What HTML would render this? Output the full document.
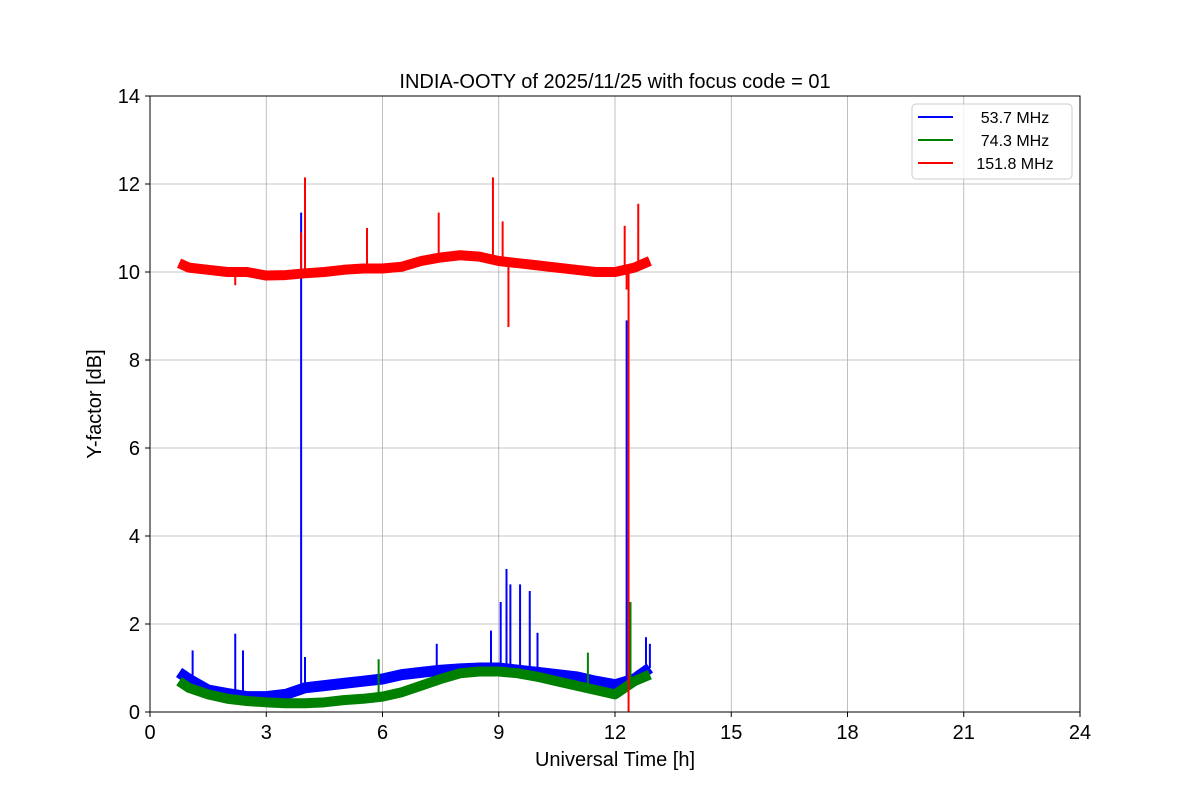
<!DOCTYPE html>
<html><head><meta charset="utf-8"><style>
body{margin:0;background:#fff;}
svg{display:block;font-family:"Liberation Sans","DejaVu Sans",sans-serif;}
</style></head><body>
<svg id="chart" width="1200" height="800">
<rect width="1200" height="800" fill="#fff"/>
<text x="615" y="88" font-size="20" text-anchor="middle">INDIA-OOTY of 2025/11/25 with focus code = 01</text>
<g id="grid"></g>
<g id="plot"></g>
<rect x="150" y="96" width="930" height="616" fill="none" stroke="#000" stroke-width="1"/>
<g id="ticks"></g>
<text x="615" y="766" font-size="20" text-anchor="middle">Universal Time [h]</text>
<text transform="translate(101,404) rotate(-90)" font-size="20" text-anchor="middle">Y-factor [dB]</text>
<g>
<rect x="912" y="104" width="160" height="75" rx="4" fill="#fff" fill-opacity="0.8" stroke="#ccc"/>
<g><line x1="918" y1="117" x2="953" y2="117" stroke="blue" stroke-width="2"/><text x="1015" y="123" font-size="16" text-anchor="middle">53.7 MHz</text></g>
<g><line x1="918" y1="140" x2="953" y2="140" stroke="green" stroke-width="2"/><text x="1015" y="146" font-size="16" text-anchor="middle">74.3 MHz</text></g>
<g><line x1="918" y1="163" x2="953" y2="163" stroke="red" stroke-width="2"/><text x="1015" y="169" font-size="16" text-anchor="middle">151.8 MHz</text></g>
</g>
</svg>
<script>
const xTicks=[0,3,6,9,12,15,18,21,24];
const yTicks=[0,2,4,6,8,10,12,14];
const times=[0.75,1,1.5,2,2.5,3,3.5,4,4.5,5,5.5,6,6.5,7,7.5,8,8.5,9,9.5,10,10.5,11,11.5,12,12.5,12.9];
const blueBase=[0.9,0.75,0.5,0.42,0.35,0.35,0.4,0.55,0.6,0.65,0.7,0.75,0.85,0.9,0.95,0.98,1.0,1.0,0.95,0.9,0.85,0.8,0.7,0.62,0.75,1.0];
const greenBase=[0.7,0.55,0.4,0.3,0.25,0.22,0.2,0.2,0.22,0.27,0.3,0.35,0.45,0.6,0.75,0.88,0.92,0.92,0.88,0.8,0.7,0.6,0.5,0.4,0.7,0.85];
const redBase=[10.2,10.1,10.05,10.0,10.0,9.92,9.93,9.97,10.0,10.05,10.08,10.08,10.12,10.25,10.33,10.38,10.35,10.25,10.2,10.15,10.1,10.05,10.0,10.0,10.1,10.25];
const blueSpikeT=[1.1,2.2,2.4,3.9,4.0,7.4,8.8,9.05,9.2,9.3,9.55,9.8,10.0,12.3,12.8,12.9];
const blueSpikeV=[1.4,1.78,1.4,11.35,1.25,1.55,1.85,2.5,3.25,2.9,2.9,2.75,1.8,8.9,1.7,1.55];
const greenSpikeT=[5.9,11.3,12.4];
const greenSpikeV=[1.2,1.35,2.5];
const redSpikeT=[2.2,3.9,4.0,5.6,7.45,8.85,9.1,9.25,12.25,12.3,12.35,12.6];
const redSpikeV=[9.7,10.9,12.15,11.0,11.35,12.15,11.15,8.75,11.05,9.6,0,11.55];
const NS="http://www.w3.org/2000/svg";
const X=t=>150+t/24*930, Y=v=>712-v/14*616;
function el(tag,attrs,parent){const e=document.createElementNS(NS,tag);for(const k in attrs)e.setAttribute(k,attrs[k]);parent.appendChild(e);return e;}
const grid=document.getElementById('grid'),ticks=document.getElementById('ticks'),plot=document.getElementById('plot');
xTicks.forEach(t=>{
 const g=el('line',{x1:X(t),x2:X(t),y1:96,y2:712,stroke:'#b0b0b0','stroke-width':0.8},grid);
 
 
 el('line',{x1:X(t),x2:X(t),y1:712,y2:717,stroke:'#000'},ticks);
 const tx=el('text',{x:X(t),y:739,'font-size':20,'text-anchor':'middle'},ticks);tx.textContent=t;
 
 
});
yTicks.forEach(v=>{
 const g=el('line',{x1:150,x2:1080,y1:Y(v),y2:Y(v),stroke:'#b0b0b0','stroke-width':0.8},grid);
 
 
 el('line',{x1:145,x2:150,y1:Y(v),y2:Y(v),stroke:'#000'},ticks);
 const tx=el('text',{x:140,y:Y(v)+7,'font-size':20,'text-anchor':'end'},ticks);tx.textContent=v;
 
 
});
function interp(base,t){for(let i=0;i<times.length-1;i++){if(t>=times[i]&&t<=times[i+1]){const f=(t-times[i])/(times[i+1]-times[i]);return base[i]+f*(base[i+1]-base[i]);}}return base[base.length-1];}
function series(base,st,sv,color,w,name){
 const g=el('g',{},plot);
 
 
 el('polyline',{points:times.map((t,i)=>X(t)+','+Y(base[i])).join(' '),fill:'none',stroke:color,'stroke-width':w,'stroke-linejoin':'round','stroke-linecap':'butt'},g);
 st.forEach((t,i)=>{
  const b=interp(base,t);
  const l=el('line',{x1:X(t),x2:X(t),y1:Y(b),y2:Y(sv[i]),stroke:color,'stroke-width':2},g);
  
  
 });
}
series(blueBase,blueSpikeT,blueSpikeV,'blue',11,'series-53mhz');
series(greenBase,greenSpikeT,greenSpikeV,'green',10,'series-74mhz');
series(redBase,redSpikeT,redSpikeV,'red',10,'series-151mhz');
</script>
</body></html>
